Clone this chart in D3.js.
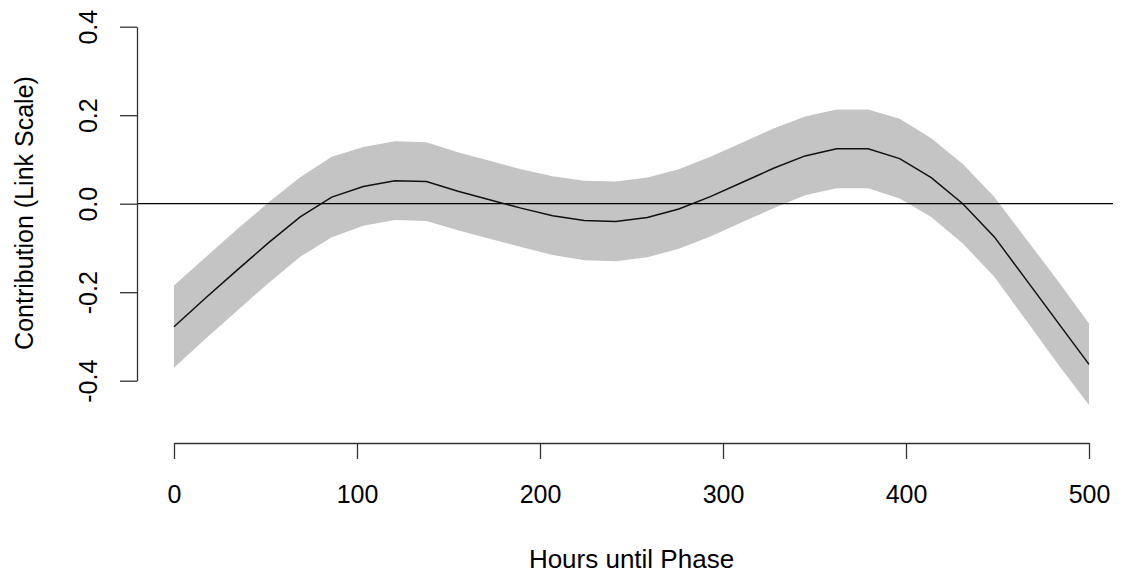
<!DOCTYPE html>
<html>
<head>
<meta charset="utf-8">
<script src="https://cdn.jsdelivr.net/npm/d3@7"></script>
<style>
  html, body { margin: 0; padding: 0; background: #fff; }
  svg { display: block; }
  text { font-family: "Liberation Sans", Arial, Helvetica, sans-serif; fill: #000; }
</style>
</head>
<body>
<svg id="chart" width="1124" height="574"></svg>
<script>
// ---- data ----
const hours = [0, 17.24, 34.48, 51.72, 68.97, 86.21, 103.45, 120.69, 137.93, 155.17,
  172.41, 189.66, 206.90, 224.14, 241.38, 258.62, 275.86, 293.10, 310.34, 327.59,
  344.83, 362.07, 379.31, 396.55, 413.79, 431.03, 448.28, 465.52, 482.76, 500];
const fit = [-0.278, -0.213, -0.150, -0.088, -0.030, 0.015, 0.039, 0.052, 0.050, 0.028,
  0.009, -0.010, -0.027, -0.038, -0.040, -0.031, -0.012, 0.016, 0.048, 0.080,
  0.108, 0.124, 0.124, 0.102, 0.059, 0.000, -0.075, -0.171, -0.267, -0.363];
const upper = [-0.185, -0.121, -0.058, 0.003, 0.060, 0.106, 0.128, 0.141, 0.139, 0.116,
  0.097, 0.078, 0.062, 0.052, 0.050, 0.059, 0.078, 0.106, 0.138, 0.170,
  0.197, 0.213, 0.213, 0.192, 0.148, 0.090, 0.015, -0.079, -0.173, -0.271];
const lower = [-0.371, -0.305, -0.242, -0.179, -0.120, -0.076, -0.050, -0.037, -0.039, -0.060,
  -0.079, -0.098, -0.116, -0.128, -0.130, -0.121, -0.102, -0.074, -0.042, -0.010,
  0.019, 0.035, 0.035, 0.012, -0.030, -0.090, -0.165, -0.263, -0.361, -0.455];
const xTicks = [0, 100, 200, 300, 400, 500];
const yTicks = [-0.4, -0.2, 0.0, 0.2, 0.4];
const xLabel = "Hours until Phase";
const yLabel = "Contribution (Link Scale)";

// ---- layout ----
const svg = d3.select("#chart");
const fontSize = 25;
const titleSize = 26;
const x = d3.scaleLinear().domain([0, 500]).range([174, 1089]);
const y = d3.scaleLinear().domain([-0.4, 0.4]).range([380.7, 26.7]);
const axisX = 443, axisY = 137, plotRight = 1113;

const rows = hours.map((h, i) => ({ h, f: fit[i], lo: lower[i], hi: upper[i] }));

// confidence band
svg.append("path")
  .datum(rows)
  .attr("fill", "#c4c4c4")
  .attr("stroke", "none")
  .attr("d", d3.area().x(d => x(d.h)).y0(d => y(d.lo)).y1(d => y(d.hi)));

// zero line
svg.append("line")
  .attr("x1", axisY).attr("x2", plotRight)
  .attr("y1", y(0)).attr("y2", y(0))
  .attr("stroke", "#000").attr("stroke-width", 1.3);

// fitted line
svg.append("path")
  .datum(rows)
  .attr("fill", "none")
  .attr("stroke", "#111")
  .attr("stroke-width", 1.5)
  .attr("d", d3.line().x(d => x(d.h)).y(d => y(d.f)));

// x axis
const gx = svg.append("g")
  .attr("transform", `translate(0,${axisX})`)
  .call(d3.axisBottom(x).tickValues(xTicks).tickSize(16).tickSizeOuter(0).tickFormat(d3.format("d")));
gx.select(".domain").attr("stroke", "#333").attr("stroke-width", 1.5);
gx.selectAll(".tick line").attr("stroke", "#333").attr("stroke-width", 1.3);
gx.selectAll(".tick text")
  .attr("y", 60).attr("dy", null)
  .style("font-size", fontSize + "px")
  .style("font-family", "'Liberation Sans', Arial, sans-serif")
  .attr("fill", "#000");

// y axis
const gy = svg.append("g")
  .attr("transform", `translate(${axisY},0)`)
  .call(d3.axisLeft(y).tickValues(yTicks).tickSize(17).tickSizeOuter(0).tickFormat(d => d.toFixed(1)));
gy.select(".domain").attr("stroke", "#333").attr("stroke-width", 1.3);
gy.selectAll(".tick line").attr("stroke", "#333").attr("stroke-width", 1.3);
gy.selectAll(".tick text")
  .attr("x", null).attr("dy", null)
  .attr("text-anchor", "middle")
  .attr("transform", "translate(-40,0) rotate(-90)")
  .style("font-size", fontSize + "px")
  .style("font-family", "'Liberation Sans', Arial, sans-serif")
  .attr("fill", "#000");

// axis titles
svg.append("text")
  .attr("x", 631.5).attr("y", 568)
  .attr("text-anchor", "middle")
  .style("font-size", titleSize + "px")
  .text(xLabel);

svg.append("text")
  .attr("transform", "translate(33,213) rotate(-90)")
  .attr("text-anchor", "middle")
  .style("font-size", fontSize + "px")
  .text(yLabel);
</script>
</body>
</html>
